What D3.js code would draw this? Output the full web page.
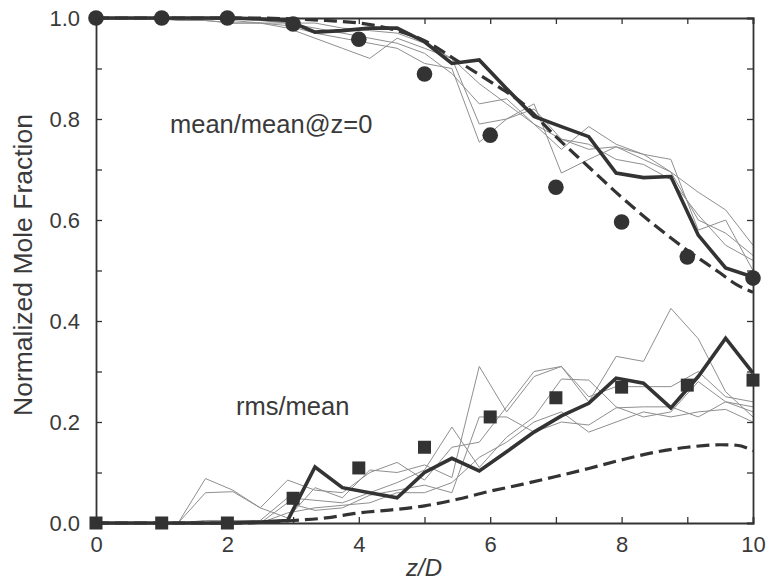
<!DOCTYPE html>
<html>
<head>
<meta charset="utf-8">
<script src="https://cdn.jsdelivr.net/npm/d3@7"></script>
<style>
  body { margin: 0; background: #fff; }
  text { font-family: "Liberation Sans", Arial, sans-serif; fill: #3a3a3a; }
</style>
</head>
<body>
<div class="chart"></div>
<script>
const w = 767;
const h = 582;
const margin = { top: 18, right: 14, bottom: 59, left: 96 };
const width = w - margin.left - margin.right;
const height = h - margin.top - margin.bottom;

// grid of the measured profiles (25 stations)
const zGrid = d3.range(25).map(k => k * 10 / 24);

// symbols
const zPts = [0, 1, 2, 3, 4, 5, 6, 7, 8, 9, 10];
const meanPts = [1.0, 1.0, 1.0, 0.988, 0.958, 0.889, 0.768, 0.665, 0.596, 0.527, 0.485];
const rmsPts = [0, 0, 0, 0.049, 0.109, 0.150, 0.210, 0.248, 0.269, 0.273, 0.283];

// thick solid lines
const meanThick = [1, 1, 1, 1, 1, 1, 0.998, 0.995, 0.972, 0.975, 0.98, 0.98, 0.953, 0.91, 0.917, 0.86, 0.805, 0.785, 0.765, 0.693, 0.684, 0.686, 0.57, 0.505, 0.487];
const rmsThick = [0, 0, 0, 0, 0, 0, 0.002, 0.005, 0.111, 0.07, 0.06, 0.05, 0.10, 0.128, 0.103, 0.141, 0.18, 0.212, 0.237, 0.287, 0.277, 0.228, 0.29, 0.366, 0.297];

// thin lines (individual runs)
const meanThin = [
  [1, 1, 1, 0.995, 0.995, 0.99, 0.99, 0.985, 0.97, 0.96, 0.95, 0.94, 0.91, 0.90, 0.754, 0.80, 0.83, 0.693, 0.72, 0.745, 0.72, 0.695, 0.60, 0.574, 0.53],
  [1, 1, 1, 1, 0.995, 0.99, 0.99, 0.98, 0.96, 0.94, 0.92, 0.96, 0.94, 0.92, 0.79, 0.80, 0.82, 0.76, 0.74, 0.745, 0.73, 0.695, 0.655, 0.62, 0.55],
  [1, 1, 1, 1, 1, 0.995, 0.99, 0.99, 0.98, 0.97, 0.96, 0.95, 0.93, 0.89, 0.83, 0.84, 0.79, 0.74, 0.785, 0.75, 0.73, 0.72, 0.58, 0.60, 0.50],
  [1, 1, 1, 1, 1, 1, 0.995, 0.99, 0.99, 0.98, 0.975, 0.97, 0.95, 0.92, 0.87, 0.83, 0.79, 0.76, 0.75, 0.72, 0.71, 0.68, 0.61, 0.55, 0.52]
];
const rmsThin = [
  [0, 0, 0, 0, 0.088, 0.065, 0.03, 0.085, 0.065, 0.06, 0.10, 0.12, 0.085, 0.15, 0.16, 0.23, 0.30, 0.31, 0.24, 0.33, 0.32, 0.425, 0.365, 0.26, 0.21],
  [0, 0, 0, 0, 0.06, 0.062, 0.03, 0.01, 0.07, 0.05, 0.105, 0.10, 0.115, 0.09, 0.31, 0.22, 0.29, 0.31, 0.25, 0.27, 0.27, 0.27, 0.30, 0.25, 0.24],
  [0, 0, 0, 0, 0.005, 0.005, 0.005, 0.05, 0.045, 0.04, 0.06, 0.08, 0.105, 0.19, 0.11, 0.17, 0.21, 0.285, 0.283, 0.23, 0.21, 0.22, 0.28, 0.24, 0.23],
  [0, 0, 0, 0, 0, 0, 0, 0.04, 0.025, 0.03, 0.055, 0.065, 0.075, 0.06, 0.21, 0.21, 0.18, 0.20, 0.194, 0.228, 0.23, 0.23, 0.21, 0.24, 0.22],
  [0, 0, 0, 0, 0, 0, 0, 0.02, 0.03, 0.035, 0.04, 0.06, 0.06, 0.08, 0.13, 0.16, 0.20, 0.22, 0.18, 0.20, 0.22, 0.21, 0.22, 0.225, 0.20]
];

// dashed model curves
const zModel = [0, 0.5, 1, 1.5, 2, 2.5, 3, 3.5, 4, 4.5, 5, 5.5, 6, 6.5, 7, 7.5, 8, 8.5, 9, 9.5, 9.75, 10];
const meanModel = [1, 1, 1, 1, 1, 1, 0.998, 0.995, 0.99, 0.978, 0.955, 0.915, 0.874, 0.83, 0.765, 0.705, 0.645, 0.59, 0.54, 0.495, 0.472, 0.457];
const rmsModel = [0, 0, 0, 0, 0, 0.001, 0.005, 0.01, 0.02, 0.026, 0.034, 0.047, 0.063, 0.077, 0.092, 0.108, 0.125, 0.14, 0.15, 0.155, 0.154, 0.143];

const xTicks = [0, 2, 4, 6, 8, 10];
const yTicks = [0.0, 0.2, 0.4, 0.6, 0.8, 1.0];

const x = d3.scaleLinear().domain([0, 10]).range([0, width]);
const y = d3.scaleLinear().domain([0, 1]).range([height, 0]);

const svg = d3.select(".chart")
  .append("svg")
  .attr("width", w)
  .attr("height", h);

const g = svg.append("g")
  .attr("transform", "translate(" + margin.left + "," + margin.top + ")");

const ink = "#333";

const line = d3.line()
  .x(d => x(d[0]))
  .y(d => y(d[1]));

// thin runs
meanThin.concat(rmsThin).forEach(function(s) {
  g.append("path")
    .attr("d", line(zGrid.map((z, i) => [z, s[i]])))
    .attr("fill", "none")
    .attr("stroke", "#8f8f8f")
    .attr("stroke-width", 1);
});

// model curves
[meanModel, rmsModel].forEach(function(s) {
  g.append("path")
    .attr("d", d3.line().curve(d3.curveMonotoneX).x(d => x(d[0])).y(d => y(d[1]))(zModel.map((z, i) => [z, s[i]])))
    .attr("fill", "none")
    .attr("stroke", ink)
    .attr("stroke-width", 3.2)
    .attr("stroke-dasharray", "13,6");
});

// thick mean lines
[meanThick, rmsThick].forEach(function(s) {
  g.append("path")
    .attr("d", line(zGrid.map((z, i) => [z, s[i]])))
    .attr("fill", "none")
    .attr("stroke", ink)
    .attr("stroke-width", 3.6)
    .attr("stroke-linejoin", "miter");
});

// markers
g.selectAll(".circ")
  .data(zPts)
  .enter().append("circle")
  .attr("cx", d => x(d))
  .attr("cy", (d, i) => y(meanPts[i]))
  .attr("r", 7.8)
  .attr("fill", ink);

g.selectAll(".sq")
  .data(zPts)
  .enter().append("rect")
  .attr("x", d => x(d) - 6.5)
  .attr("y", (d, i) => y(rmsPts[i]) - 6.5)
  .attr("width", 13)
  .attr("height", 13)
  .attr("fill", ink);

// axes
const xAxis = g.append("g")
  .attr("transform", "translate(0," + height + ")")
  .call(d3.axisBottom(x).tickValues(d3.range(0, 11)).tickSize(-6).tickPadding(13)
    .tickFormat(d => xTicks.includes(d) ? d : ""));
const xTop = g.append("g")
  .call(d3.axisTop(x).tickValues(d3.range(0, 11)).tickSize(-6).tickFormat(""));
const yAxis = g.append("g")
  .call(d3.axisLeft(y).tickValues(d3.range(0, 1.01, 0.1)).tickSize(-6).tickPadding(16)
    .tickFormat(d => yTicks.some(t => Math.abs(t - d) < 1e-6) ? d3.format(".1f")(d) : ""));
const yRight = g.append("g")
  .attr("transform", "translate(" + width + ",0)")
  .call(d3.axisRight(y).tickValues(d3.range(0, 1.01, 0.1)).tickSize(-6).tickFormat(""));

[xAxis, xTop, yAxis, yRight].forEach(function(a) {
  a.select(".domain").attr("stroke", ink).attr("stroke-width", 1.8);
  a.selectAll(".tick line").attr("stroke", ink).attr("stroke-width", 1.3);
  a.selectAll(".tick text").style("font-size", "22px").attr("fill", "#3a3a3a")
    .style("font-family", "'Liberation Sans', Arial, sans-serif");
});

// annotations
svg.append("text")
  .attr("x", 170)
  .attr("y", 133)
  .style("font-size", "25.5px")
  .text("mean/mean@z=0");

svg.append("text")
  .attr("x", 236)
  .attr("y", 415)
  .style("font-size", "25.5px")
  .text("rms/mean");

// axis titles
svg.append("text")
  .attr("transform", "translate(32,265) rotate(-90)")
  .attr("text-anchor", "middle")
  .style("font-size", "26.5px")
  .text("Normalized Mole Fraction");

svg.append("text")
  .attr("x", 424)
  .attr("y", 576)
  .attr("text-anchor", "middle")
  .style("font-size", "24px")
  .style("font-style", "italic")
  .text("z/D");
</script>
</body>
</html>
